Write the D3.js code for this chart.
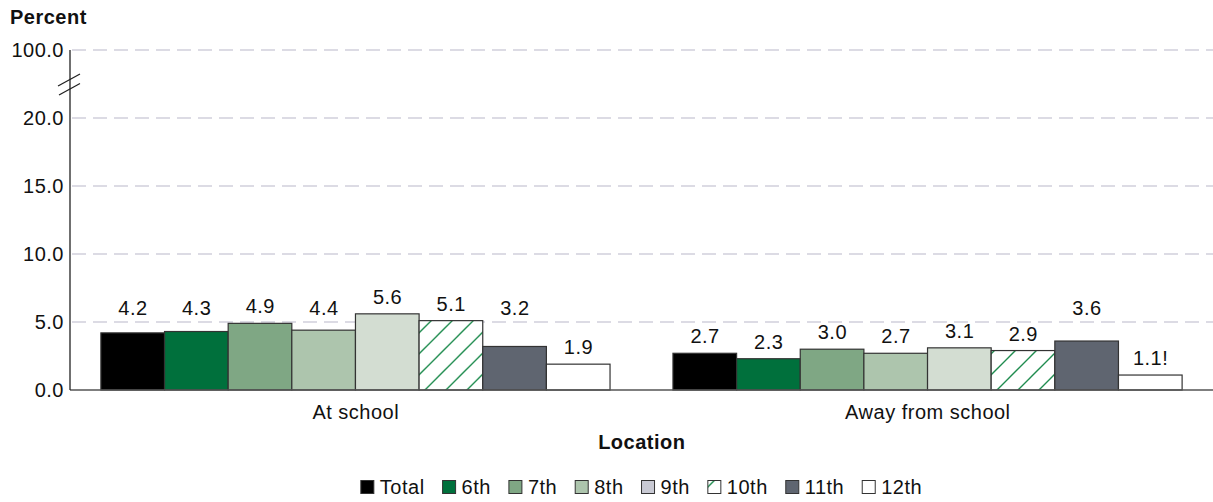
<!DOCTYPE html>
<html><head><meta charset="utf-8">
<script src="https://cdn.jsdelivr.net/npm/d3@7"></script>
<style>
body{margin:0;background:#fff;}
svg{display:block;font-family:"Liberation Sans",Arial,sans-serif;}
svg text{letter-spacing:0.5px;}
</style></head>
<body><svg id="c" width="1213" height="502"></svg>
<script>
const locations = ["At school", "Away from school"];
const grades = ["Total", "6th", "7th", "8th", "9th", "10th", "11th", "12th"];
const atSchool = [4.2, 4.3, 4.9, 4.4, 5.6, 5.1, 3.2, 1.9];
const awayFromSchool = [2.7, 2.3, 3.0, 2.7, 3.1, 2.9, 3.6, 1.1];
const atSuffix = ["", "", "", "", "", "", "", ""];
const awaySuffix = ["", "", "", "", "", "", "", "!"];
const yTicks = [0, 5, 10, 15, 20, 100];
const barColors = ["#000000", "#00703c", "#7fa784", "#adc5ad", "#d3ddd2", "url(#hatch)", "#5f6570", "#ffffff"];
const legendColors = ["#000000", "#00703c", "#7fa784", "#adc5ad", "#c8c9d3", "url(#hatch)", "#5f6570", "#ffffff"];

const series = [atSchool, awayFromSchool];
const suffixes = [atSuffix, awaySuffix];
const FS = 20;

const svg = d3.select("#c");
const defs = svg.append("defs");
const pat = defs.append("pattern").attr("id", "hatch").attr("patternUnits", "userSpaceOnUse")
  .attr("width", 21).attr("height", 21);
pat.append("rect").attr("width", 21).attr("height", 21).attr("fill", "#fff");
pat.append("path").attr("d", "M-2,23 L23,-2 M-12,12 L12,-12 M9,33 L33,9")
  .attr("stroke", "#1b8a4c").attr("stroke-width", 1.4);

const left = 70, right = 1213, bottom = 390;
const y = d3.scaleLinear().domain([0, 20, 100]).range([bottom, 118, 50]);
const x0 = d3.scaleBand().domain(locations).range([left, right]).paddingInner(0.11).paddingOuter(0.054);
const x1 = d3.scaleBand().domain(grades).range([0, x0.bandwidth()]);

// gridlines
svg.append("g").selectAll("line").data(yTicks.filter(d => d > 0)).join("line")
  .attr("x1", left + 2).attr("x2", right).attr("y1", d => y(d)).attr("y2", d => y(d))
  .attr("stroke", "#b9b8c9").attr("stroke-width", 1.2).attr("stroke-dasharray", "14,7");

// y tick labels
svg.append("g").selectAll("text").data(yTicks).join("text")
  .attr("x", 64).attr("y", d => y(d)).attr("dy", "0.35em").attr("text-anchor", "end")
  .attr("font-size", FS).attr("fill", "#111").text(d => d3.format(".1f")(d));

// bars
const groups = svg.append("g").selectAll("g").data(locations).join("g")
  .attr("transform", d => `translate(${x0(d)},0)`);
groups.each(function(loc, li) {
  const g = d3.select(this);
  const vals = series[li];
  g.selectAll("rect").data(grades).join("rect")
    .attr("x", (d) => x1(d)).attr("width", x1.bandwidth())
    .attr("y", (d, i) => y(vals[i])).attr("height", (d, i) => bottom - y(vals[i]))
    .attr("fill", (d, i) => barColors[i]).attr("stroke", "#333").attr("stroke-width", 1.2);
  g.selectAll("text").data(grades).join("text")
    .attr("x", d => x1(d) + x1.bandwidth() / 2 + 0.3)
    .attr("y", (d, i) => {
      let b = y(vals[i]) - 10;
      const gy = y(5);
      if (b < gy + 15 && b > gy - 3) b = gy - 7;
      return b;
    })
    .attr("text-anchor", "middle").attr("font-size", FS).attr("fill", "#111")
    .text((d, i) => d3.format(".1f")(vals[i]) + (suffixes[li][i] || ""));
});

// axes lines
svg.append("line").attr("x1", left).attr("x2", right).attr("y1", bottom).attr("y2", bottom)
  .attr("stroke", "#555").attr("stroke-width", 1.6);
svg.append("line").attr("x1", left).attr("x2", left).attr("y1", y(100)).attr("y2", bottom)
  .attr("stroke", "#222").attr("stroke-width", 1.3);
// break marks
svg.append("path").attr("d", "M58,86 L80,74 M59,95 L80,83.5").attr("stroke", "#222").attr("stroke-width", 1.3).attr("fill", "none");

// category labels
svg.append("g").selectAll("text").data(locations).join("text")
  .attr("x", d => x0(d) + x0.bandwidth() / 2 + 0.3).attr("y", 419).attr("text-anchor", "middle")
  .attr("font-size", FS).attr("fill", "#111").text(d => d);

// axis titles
svg.append("text").attr("x", (left + right) / 2 + 0.3).attr("y", 449).attr("text-anchor", "middle")
  .attr("font-size", FS).attr("font-weight", "bold").attr("fill", "#111").text("Location");
svg.append("text").attr("x", 10).attr("y", 24).attr("font-size", FS).attr("font-weight", "bold")
  .attr("fill", "#111").text("Percent");

// legend
const leg = svg.append("g");
let cx = 0;
const gap = 18, tx = 19;
grades.forEach((gname, i) => {
  const it = leg.append("g").attr("transform", `translate(${cx},0)`);
  it.append("rect").attr("x", 0).attr("y", -6.5).attr("width", 13).attr("height", 13)
    .attr("fill", legendColors[i]).attr("stroke", "#333").attr("stroke-width", 1);
  const t = it.append("text").attr("x", tx).attr("y", 0).attr("dy", "0.35em")
    .attr("font-size", FS).attr("fill", "#111").text(gname);
  cx += tx + t.node().getComputedTextLength() + gap;
});
const legW = cx - gap;
leg.attr("transform", `translate(${(left + right) / 2 - legW / 2},487)`);
</script></body></html>
